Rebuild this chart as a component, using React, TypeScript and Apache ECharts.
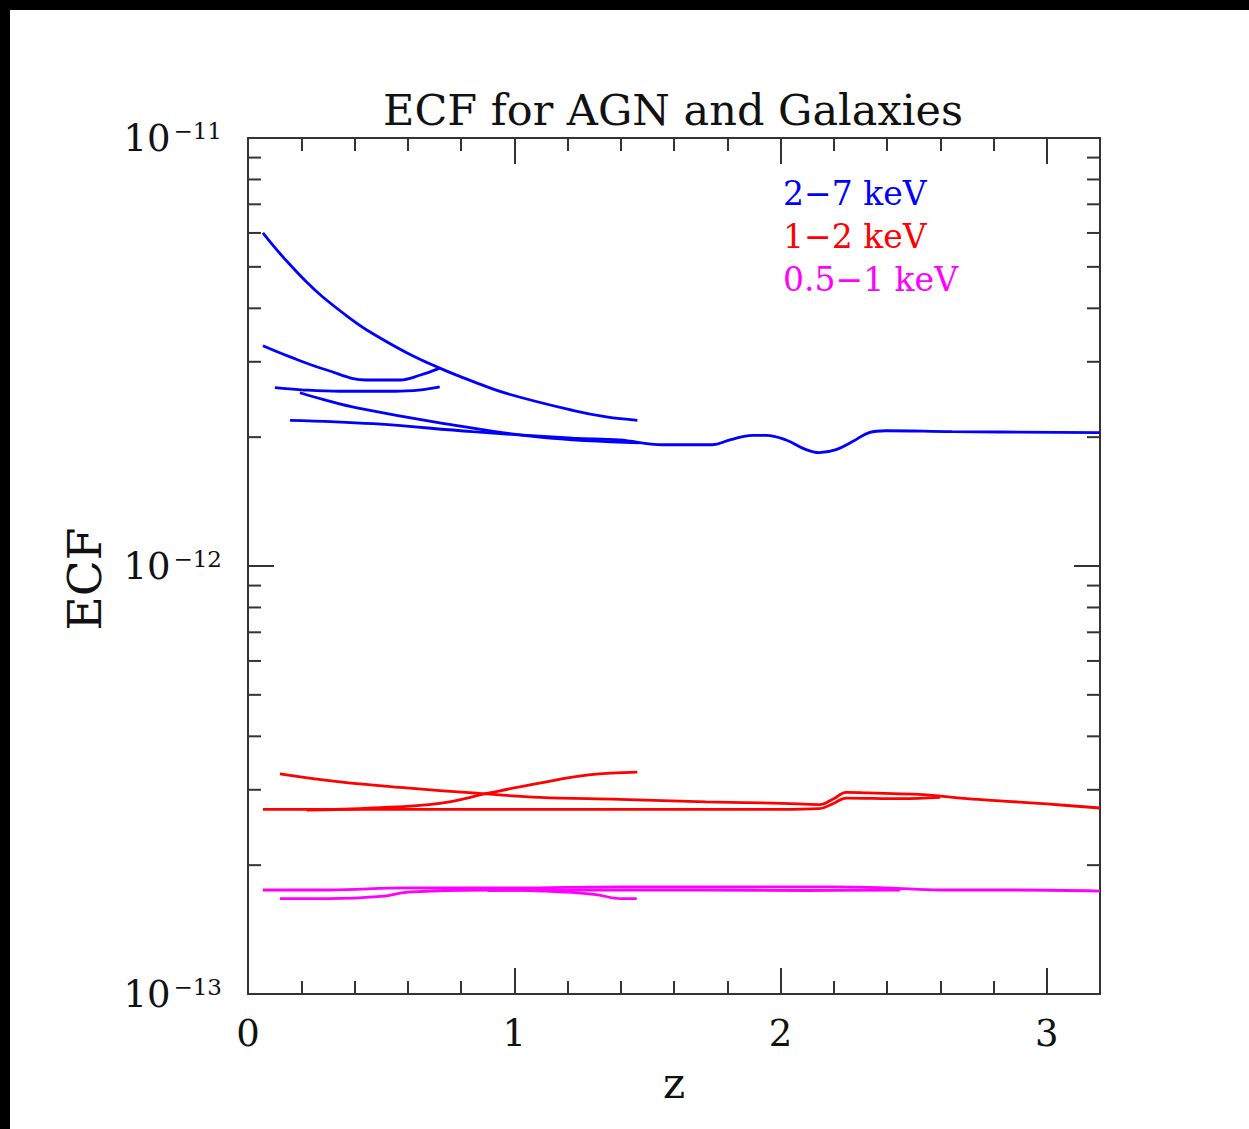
import React, { useEffect, useRef } from 'react';
import * as echarts from 'echarts';

// ---- data (z, ECF) ----
// 2-7 keV (blue)
const blueA_z = [0.056, 0.09, 0.139, 0.221, 0.281, 0.383, 0.446, 0.596, 0.72, 0.844, 0.971, 1.219, 1.346, 1.4625];
const blueA_ecf = [6.0e-12, 5.65e-12, 5.21e-12, 4.6e-12, 4.25e-12, 3.79e-12, 3.56e-12, 3.15e-12, 2.9e-12, 2.7e-12, 2.53e-12, 2.31e-12, 2.23e-12, 2.19e-12];
const blueB_z = [0.056, 0.158, 0.296, 0.446, 0.57, 0.645, 0.72];
const blueB_ecf = [3.27e-12, 3.08e-12, 2.87e-12, 2.72e-12, 2.72e-12, 2.79e-12, 2.9e-12];
const blueC_z = [0.101, 0.2, 0.345, 0.55, 0.65, 0.72];
const blueC_ecf = [2.61e-12, 2.58e-12, 2.56e-12, 2.56e-12, 2.58e-12, 2.62e-12];
const blueD_z = [0.195, 0.281, 0.409, 0.72, 1.095, 1.47];
const blueD_ecf = [2.54e-12, 2.45e-12, 2.34e-12, 2.16e-12, 2.0e-12, 1.94e-12];
const blueE_z = [0.158, 0.47, 0.844, 1.22, 1.395, 1.556, 1.744, 1.81, 1.894, 1.946, 2.021, 2.096, 2.145, 2.209, 2.269, 2.333, 2.396, 2.644, 3.2];
const blueE_ecf = [2.19e-12, 2.15e-12, 2.06e-12, 1.99e-12, 1.97e-12, 1.92e-12, 1.92e-12, 1.97e-12, 2.02e-12, 2.02e-12, 1.97e-12, 1.87e-12, 1.84e-12, 1.87e-12, 1.95e-12, 2.05e-12, 2.07e-12, 2.06e-12, 2.05e-12];

// 1-2 keV (red)
const redA_z = [0.12, 0.345, 0.596, 0.844, 1.095, 1.395, 1.72, 2.006, 2.145, 2.2, 2.246, 2.33, 2.5, 2.6, 2.7, 2.85, 3.0, 3.2];
const redA_ecf = [3.27e-13, 3.13e-13, 3.03e-13, 2.95e-13, 2.88e-13, 2.85e-13, 2.81e-13, 2.79e-13, 2.77e-13, 2.86e-13, 2.96e-13, 2.95e-13, 2.93e-13, 2.9e-13, 2.86e-13, 2.82e-13, 2.78e-13, 2.72e-13];
const redB_z = [0.056, 0.5, 1.0, 1.5, 2.0, 2.145, 2.2, 2.246, 2.45, 2.6];
const redB_ecf = [2.7e-13, 2.7e-13, 2.7e-13, 2.7e-13, 2.7e-13, 2.71e-13, 2.79e-13, 2.87e-13, 2.86e-13, 2.88e-13];
const redC_z = [0.22, 0.47, 0.72, 0.907, 1.095, 1.28, 1.4625];
const redC_ecf = [2.69e-13, 2.72e-13, 2.79e-13, 2.95e-13, 3.11e-13, 3.25e-13, 3.3e-13];

// 0.5-1 keV (magenta)
const magA_z = [0.056, 0.3, 0.6, 1.0, 1.4, 1.8, 2.2, 2.4, 2.6, 2.9, 3.2];
const magA_ecf = [1.75e-13, 1.75e-13, 1.77e-13, 1.77e-13, 1.78e-13, 1.78e-13, 1.78e-13, 1.77e-13, 1.75e-13, 1.75e-13, 1.74e-13];
const magB_z = [0.12, 0.3, 0.5, 0.6, 0.9, 1.1, 1.3, 1.4, 1.46];
const magB_ecf = [1.67e-13, 1.67e-13, 1.69e-13, 1.73e-13, 1.75e-13, 1.74e-13, 1.71e-13, 1.67e-13, 1.67e-13];
const magC_z = [0.9, 1.3, 1.7, 2.1, 2.45];
const magC_ecf = [1.745e-13, 1.75e-13, 1.75e-13, 1.745e-13, 1.75e-13];

// minor log ticks on the ECF axis
const minorYTicks = [2e-13, 3e-13, 4e-13, 5e-13, 6e-13, 7e-13, 8e-13, 9e-13, 2e-12, 3e-12, 4e-12, 5e-12, 6e-12, 7e-12, 8e-12, 9e-12];

const legendItems = ['2\u22127 keV', '1\u22122 keV', '0.5\u22121 keV'];
const BLUE = '#0000ff';
const RED = '#ff0000';
const MAGENTA = '#ff00ff';
const FONT = 'DejaVu Serif';
const AX = '#333';

const pairs = (zs: number[], vs: number[]) => zs.map((z, i) => [z, vs[i]]);

const lineSeries = (name: string, color: string, zs: number[], vs: number[]) => ({
  type: 'line',
  name,
  data: pairs(zs, vs),
  showSymbol: false,
  smooth: 0.4,
  lineStyle: { color, width: 2.8 },
  itemStyle: { color },
  xAxisIndex: 0,
  yAxisIndex: 0,
  silent: true,
});

export default function App() {
  const ref = useRef<HTMLDivElement>(null);
  useEffect(() => {
    if (!ref.current) return;
    const chart = echarts.init(ref.current, null, { renderer: 'svg' });
    const tickStyle = { color: AX, width: 2 };
    const baseX = { type: 'value', min: 0, max: 3.2, splitLine: { show: false }, axisLine: { show: true, onZero: false, lineStyle: tickStyle } };
    const option: any = {
      animation: false,
      backgroundColor: '#ffffff',
      title: {
        text: 'ECF for AGN and Galaxies',
        left: 668,
        top: 83,
        textAlign: 'center',
        textStyle: { fontFamily: FONT, fontSize: 43, fontWeight: 'normal', color: '#111' },
      },
      grid: { left: 248, top: 138, right: 149, bottom: 135, outerBoundsMode: 'none' },
      xAxis: [
        {
          ...baseX,
          position: 'bottom',
          interval: 1,
          axisTick: { inside: true, length: 26, lineStyle: tickStyle },
          axisLabel: {
            margin: 21,
            fontFamily: FONT,
            fontSize: 37,
            color: '#111',
            formatter: (v: number) => (Number.isInteger(v) ? String(v) : ''),
          },
          name: 'z',
          nameLocation: 'middle',
          nameGap: 68,
          nameTextStyle: { fontFamily: FONT, fontSize: 42, color: '#111' },
        },
        { ...baseX, position: 'bottom', interval: 0.2, axisLine: { show: false }, axisTick: { inside: true, length: 13, lineStyle: tickStyle }, axisLabel: { show: false } },
        { ...baseX, position: 'top', interval: 1, axisTick: { inside: true, length: 26, lineStyle: tickStyle }, axisLabel: { show: false } },
        { ...baseX, position: 'top', interval: 0.2, axisLine: { show: false }, axisTick: { inside: true, length: 13, lineStyle: tickStyle }, axisLabel: { show: false } },
      ],
      yAxis: [
        {
          type: 'log',
          logBase: 10,
          min: 1e-13,
          max: 1e-11,
          position: 'left',
          splitLine: { show: false },
          axisLine: { show: true, onZero: false, lineStyle: tickStyle },
          axisTick: { inside: true, length: 26, lineStyle: tickStyle },
          axisLabel: {
            margin: 26,
            formatter: (v: number) => `{b|10}{s|\u2212${Math.round(-Math.log10(v))}}`,
            rich: {
              b: { fontFamily: FONT, fontSize: 37, color: '#111' },
              s: { fontFamily: FONT, fontSize: 23, color: '#111', verticalAlign: 'top', padding: [0, 0, 0, 3] },
            },
          },
        },
        {
          type: 'log',
          logBase: 10,
          min: 1e-13,
          max: 1e-11,
          position: 'right',
          splitLine: { show: false },
          axisLine: { show: true, onZero: false, lineStyle: tickStyle },
          axisTick: { inside: true, length: 26, lineStyle: tickStyle },
          axisLabel: { show: false },
        },
      ],
      graphic: [
        { type: 'rect', shape: { x: 0, y: 0, width: 1249, height: 10 }, style: { fill: '#000' }, z: 100 },
        { type: 'rect', shape: { x: 0, y: 0, width: 10, height: 1129 }, style: { fill: '#000' }, z: 100 },
        {
          type: 'text', x: 84, y: 579, rotation: Math.PI / 2,
          style: { text: 'ECF', fill: '#111', font: `47px "${FONT}"`, textAlign: 'center', textVerticalAlign: 'middle' },
        },
        { type: 'text', x: 783, y: 193, style: { text: legendItems[0], fill: BLUE, font: `33px "${FONT}"`, textVerticalAlign: 'middle' } },
        { type: 'text', x: 783, y: 236, style: { text: legendItems[1], fill: RED, font: `33px "${FONT}"`, textVerticalAlign: 'middle' } },
        { type: 'text', x: 783, y: 279, style: { text: legendItems[2], fill: MAGENTA, font: `33px "${FONT}"`, textVerticalAlign: 'middle' } },
      ],
      series: [
        lineSeries(legendItems[0], BLUE, blueA_z, blueA_ecf),
        lineSeries(legendItems[0], BLUE, blueB_z, blueB_ecf),
        lineSeries(legendItems[0], BLUE, blueC_z, blueC_ecf),
        lineSeries(legendItems[0], BLUE, blueD_z, blueD_ecf),
        lineSeries(legendItems[0], BLUE, blueE_z, blueE_ecf),
        lineSeries(legendItems[1], RED, redA_z, redA_ecf),
        lineSeries(legendItems[1], RED, redB_z, redB_ecf),
        lineSeries(legendItems[1], RED, redC_z, redC_ecf),
        lineSeries(legendItems[2], MAGENTA, magA_z, magA_ecf),
        lineSeries(legendItems[2], MAGENTA, magB_z, magB_ecf),
        lineSeries(legendItems[2], MAGENTA, magC_z, magC_ecf),
        {
          type: 'custom',
          xAxisIndex: 0,
          yAxisIndex: 0,
          silent: true,
          clip: false,
          data: minorYTicks.map((v) => [0, v]),
          renderItem: (params: any, api: any) => {
            const y = api.coord([0, api.value(1)])[1];
            const cs = params.coordSys;
            return {
              type: 'group',
              children: [
                { type: 'line', shape: { x1: cs.x, y1: y, x2: cs.x + 13, y2: y }, style: { stroke: AX, lineWidth: 2 } },
                { type: 'line', shape: { x1: cs.x + cs.width - 13, y1: y, x2: cs.x + cs.width, y2: y }, style: { stroke: AX, lineWidth: 2 } },
              ],
            };
          },
        },
      ],
    };
    chart.setOption(option);
    return () => chart.dispose();
  }, []);
  return <div ref={ref} style={{ position: 'absolute', left: 0, top: 0, width: 1249, height: 1129 }} />;
}
